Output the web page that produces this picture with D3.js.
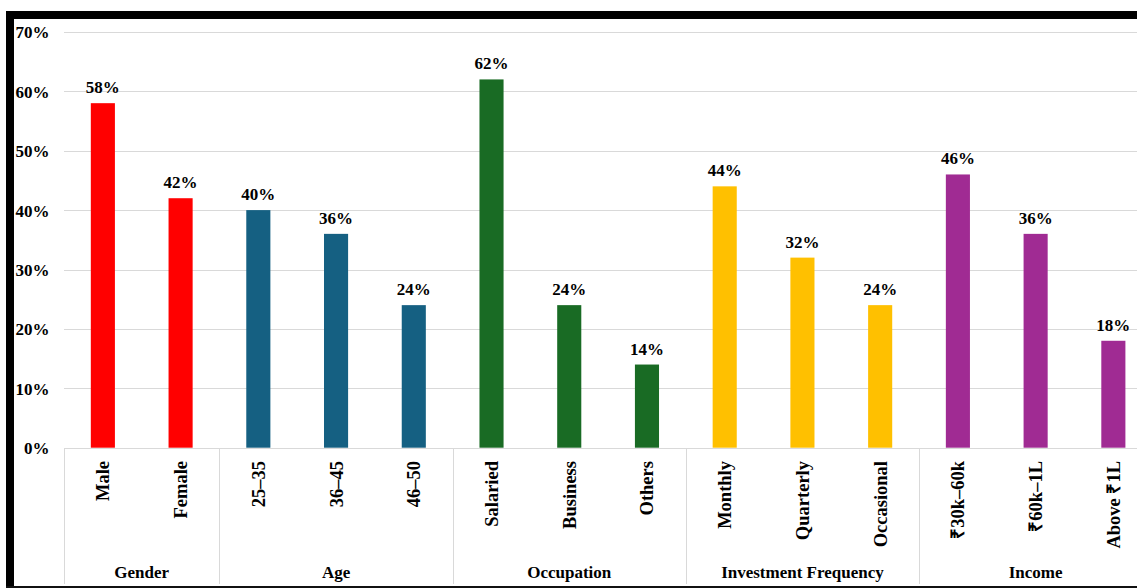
<!DOCTYPE html>
<html>
<head>
<meta charset="utf-8">
<script src="https://cdn.jsdelivr.net/npm/d3@7"></script>
<style>
  html, body { margin: 0; padding: 0; background: #fff; }
  svg { display: block; }
  text { font-family: "Liberation Serif", "Times New Roman", serif; font-weight: bold; fill: #000; }
</style>
</head>
<body>
<svg id="chart" width="1137" height="588"></svg>
<script>
const groups = ["Gender", "Age", "Occupation", "Investment Frequency", "Income"];
const categories = ["Male", "Female", "25–35", "36–45", "46–50", "Salaried", "Business", "Others", "Monthly", "Quarterly", "Occasional", "₹30k–60k", "₹60k–1L", "Above ₹1L"];
const groupIndex = [0, 0, 1, 1, 1, 2, 2, 2, 3, 3, 3, 4, 4, 4];
const values = [58, 42, 40, 36, 24, 62, 24, 14, 44, 32, 24, 46, 36, 18];
const groupColors = ["#FF0000", "#156082", "#196B24", "#FFC000", "#A02B93"];
const yTicks = [0, 10, 20, 30, 40, 50, 60, 70];

const svg = d3.select("#chart");
const W = 1137, H = 588;
const plotLeft = 64, step = 77.73;
const plotRight = plotLeft + step * categories.length;

const x = d3.scaleBand().domain(categories).range([plotLeft, plotRight])
  .paddingInner(0.69).paddingOuter(0.345);
const y = d3.scaleLinear().domain([0, 70]).range([447.7, 31.9]);

// gridlines
svg.append("g").selectAll("line").data(yTicks.filter(d => d > 0)).join("line")
  .attr("x1", plotLeft).attr("x2", W)
  .attr("y1", d => Math.round(y(d)) + 0.5).attr("y2", d => Math.round(y(d)) + 0.5)
  .attr("stroke", "#d9d9d9").attr("stroke-width", 1);

// y axis labels
const yAxis = d3.axisLeft(y).tickValues(yTicks).tickSize(0).tickPadding(0)
  .tickFormat(d => d + "%");
const ya = svg.append("g").attr("transform", "translate(49.5,0)").call(yAxis);
ya.select(".domain").remove();
ya.selectAll("text").attr("font-size", 17).attr("font-family", "Liberation Serif").attr("font-weight", "bold").attr("fill", "#000").attr("dy", "0.35em");

// bars
svg.append("g").selectAll("rect").data(categories).join("rect")
  .attr("x", d => x(d)).attr("width", x.bandwidth())
  .attr("y", (d, i) => y(values[i])).attr("height", (d, i) => y(0) - y(values[i]))
  .attr("fill", (d, i) => groupColors[groupIndex[i]]);

// value labels
svg.append("g").selectAll("text").data(categories).join("text")
  .attr("x", d => x(d) + x.bandwidth() / 2)
  .attr("y", (d, i) => y(values[i]) - 10)
  .attr("text-anchor", "middle").attr("font-size", 17)
  .text((d, i) => values[i] + "%");

// baseline
svg.append("line").attr("x1", plotLeft).attr("x2", W)
  .attr("y1", Math.round(y(0)) + 0.5).attr("y2", Math.round(y(0)) + 0.5)
  .attr("stroke", "#d9d9d9").attr("stroke-width", 1);

// category labels (rotated)
svg.append("g").selectAll("text").data(categories).join("text")
  .attr("transform", d => `translate(${x(d) + x.bandwidth() / 2},461) rotate(-90)`)
  .attr("text-anchor", "end").attr("dy", "0.35em").attr("font-size", 18.5)
  .text(d => d);

// group separators and labels
const groupBounds = groups.map((g, gi) => {
  const cats = categories.filter((c, i) => groupIndex[i] === gi);
  const x0 = x(cats[0]) - x.step() * x.paddingInner() / 2;
  const x1 = x(cats[cats.length - 1]) + x.bandwidth() + x.step() * x.paddingInner() / 2;
  return { g, x0, x1 };
});
const sepX = [groupBounds[0].x0, ...groupBounds.map(b => b.x1)];
svg.append("g").selectAll("line").data(sepX.filter(v => v < W)).join("line")
  .attr("x1", d => Math.round(d) + 0.5).attr("x2", d => Math.round(d) + 0.5)
  .attr("y1", Math.round(y(0))).attr("y2", 584)
  .attr("stroke", "#d9d9d9").attr("stroke-width", 1);
svg.append("g").selectAll("text").data(groupBounds).join("text")
  .attr("x", d => (d.x0 + d.x1) / 2).attr("y", 578)
  .attr("text-anchor", "middle").attr("font-size", 17)
  .text(d => d.g);

// black frame
svg.append("rect").attr("x", 6).attr("y", 11).attr("width", W - 6).attr("height", 8).attr("fill", "#000");
svg.append("rect").attr("x", 6).attr("y", 11).attr("width", 8).attr("height", H - 11).attr("fill", "#000");
svg.append("rect").attr("x", 6).attr("y", 586).attr("width", W - 6).attr("height", 2).attr("fill", "#111");
</script>
</body>
</html>
